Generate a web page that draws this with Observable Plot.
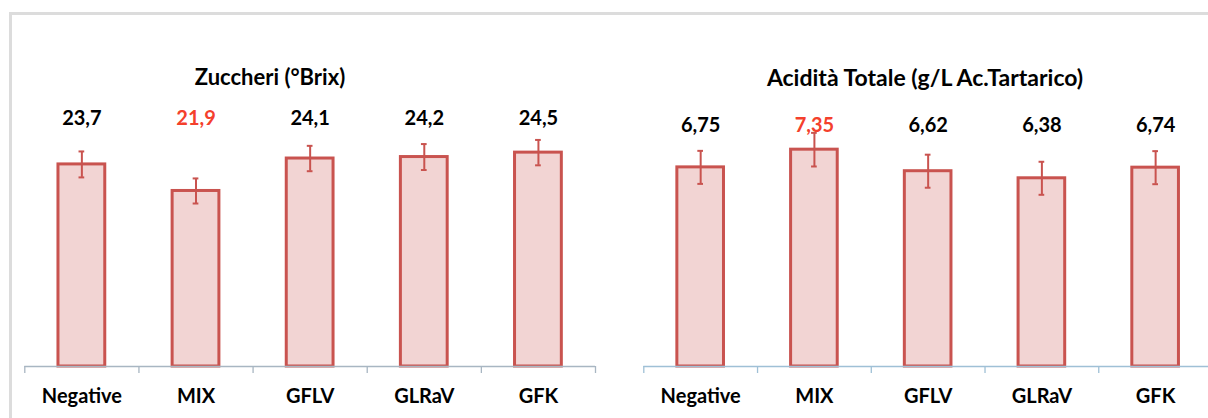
<!DOCTYPE html>
<html><head><meta charset="utf-8">
<script src="https://cdn.jsdelivr.net/npm/d3@7"></script>
<script src="https://cdn.jsdelivr.net/npm/@observablehq/plot@0.6"></script>
<style>
body{margin:0;background:#fff;}
#wrap{position:relative;width:1208px;height:418px;overflow:hidden;background:#fff;font-family:Lato, "Open Sans", sans-serif;}
#frame{position:absolute;left:9px;top:12px;width:1400px;height:600px;border:3px solid #dcdcdc;box-sizing:border-box;}
.title{position:absolute;font-weight:700;transform:translate(-50%,-50%);white-space:nowrap;color:#000;}
.panel{position:absolute;top:0;width:620px;height:418px;}
.panel svg{max-width:none !important;}
</style></head>
<body><div id="wrap"><div id="frame"></div>
<div class="title" style="left:270px;top:76px;font-size:22px">Zuccheri (°Brix)</div>
<div class="title" style="left:925px;top:77px;font-size:23px">Acidità Totale (g/L Ac.Tartarico)</div>
<div id="left" class="panel" style="left:0px"></div>
<div id="right" class="panel" style="left:600px"></div>
</div>
<script>
const categories = ["Negative", "MIX", "GFLV", "GLRaV", "GFK"];
const highlight = ["MIX"];
const sugarValues = [23.7, 21.9, 24.1, 24.2, 24.5];
const sugarErrors = [0.88, 0.85, 0.86, 0.88, 0.86];
const sugarLabels = ["23,7", "21,9", "24,1", "24,2", "24,5"];
const acidValues = [6.75, 7.35, 6.62, 6.38, 6.74];
const acidErrors = [0.56, 0.57, 0.56, 0.56, 0.56];
const acidLabels = ["6,75", "7,35", "6,62", "6,38", "6,74"];

const barColor = "#c9534f", fillColor = "#f2d4d3", red = "#f4402c";
const half = 0.205, cap = 0.025;

function panel({values, errors, labels, yDomain, marginLeft, marginRight, axisColor, labelDy}) {
  const data = categories.map((c, i) => ({i, c, v: values[i], lo: values[i] - errors[i], hi: values[i] + errors[i], label: labels[i], hl: highlight.includes(c)}));
  const y0 = yDomain[0];
  return Plot.plot({
    width: 620, height: 418,
    marginLeft, marginRight, marginTop: 130, marginBottom: 52,
    style: {background: "transparent", fontFamily: "Lato, 'Open Sans', sans-serif", fontSize: "20px", overflow: "visible", maxWidth: "none"},
    x: {domain: [0, categories.length], axis: null},
    y: {domain: yDomain, axis: null},
    marks: [
      Plot.rectY(data, {x1: d => d.i + 0.5 - half, x2: d => d.i + 0.5 + half, y1: y0, y2: "v", fill: fillColor, stroke: barColor, strokeWidth: 3}),
      Plot.ruleX(data, {x: d => d.i + 0.5, y1: "lo", y2: "hi", stroke: barColor, strokeWidth: 2}),
      Plot.ruleY(data, {x1: d => d.i + 0.5 - cap, x2: d => d.i + 0.5 + cap, y: "lo", stroke: barColor, strokeWidth: 2}),
      Plot.ruleY(data, {x1: d => d.i + 0.5 - cap, x2: d => d.i + 0.5 + cap, y: "hi", stroke: barColor, strokeWidth: 2}),
      Plot.ruleY([y0], {stroke: axisColor, strokeWidth: 1.3}),
      Plot.axisX({ticks: d3.range(categories.length + 1), tickSize: 7, tickFormat: () => "", stroke: axisColor, strokeWidth: 1.3}),
      Plot.axisX({ticks: categories.map((c, i) => i + 0.5), tickSize: 0, tickPadding: 22, tickFormat: d => categories[Math.floor(d)], fontWeight: 700, fontSize: 20, fill: "#000"}),
      Plot.text(data, {x: d => d.i + 0.5, frameAnchor: "top", lineAnchor: "middle", dy: labelDy, text: "label", fontWeight: 700, fontSize: 20, fill: d => d.hl ? red : "#000"})
    ]
  });
}

document.getElementById("left").append(panel({values: sugarValues, errors: sugarErrors, labels: sugarLabels, yDomain: [10, 26], marginLeft: 24.3, marginRight: 25, axisColor: "#a8b6c2", labelDy: -12}));
document.getElementById("right").append(panel({values: acidValues, errors: acidErrors, labels: acidLabels, yDomain: [0, 8], marginLeft: 43.3, marginRight: 8, axisColor: "#9fc0d6", labelDy: -5}));
</script>
</body></html>
